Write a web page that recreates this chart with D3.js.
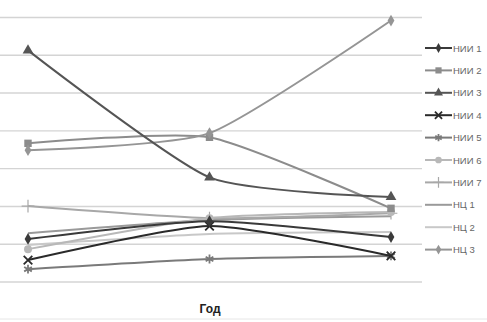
<!DOCTYPE html>
<html><head><meta charset="utf-8">
<script src="https://cdn.jsdelivr.net/npm/d3@7"></script>
<style>body{margin:0;background:#fff}svg{display:block}</style>
</head><body><svg id="c" width="487" height="322"></svg>
<script>
const years = ["1", "2", "3"];
const seriesNames = ["НИИ 1","НИИ 2","НИИ 3","НИИ 4","НИИ 5","НИИ 6","НИИ 7","НЦ 1","НЦ 2","НЦ 3"];
const nii1 = [1.14, 1.61, 1.19];
const nii2 = [3.67, 3.83, 1.95];
const nii3 = [6.13, 2.77, 2.25];
const nii4 = [0.58, 1.48, 0.69];
const nii5 = [0.34, 0.61, 0.69];
const nii6 = [0.87, 1.69, 1.85];
const nii7 = [2.01, 1.69, 1.82];
const nc1 = [1.29, 1.64, 1.74];
const nc2 = [0.98, 1.27, 1.32];
const nc3 = [3.49, 3.94, 6.92];
const gridTicks = [0,1,2,3,4,5,6,7];
const xTitle = "Год";

const values = [nii1,nii2,nii3,nii4,nii5,nii6,nii7,nc1,nc2,nc3];
const colors = ["#3a3a3a","#8c8c8c","#555555","#2a2a2a","#7a7a7a","#b8b8b8","#a8a8a8","#9a9a9a","#c8c8c8","#959595"];
const markers = ["diamond","square","triangle","x","star","circle","plus","none","none","diamond"];

const svg = d3.select("#c");
const x = d3.scalePoint().domain(years).range([28, 391]);
const y = d3.scaleLinear().domain([0, 7]).range([282, 17.5]);

// gridlines
svg.append("g").selectAll("line").data(gridTicks).join("line")
  .attr("x1", 0).attr("x2", 422)
  .attr("y1", d => y(d)).attr("y2", d => y(d))
  .attr("stroke", "#d4d4d4").attr("stroke-width", 1.4);

const line = d3.line().x((d,i) => x(years[i])).y(d => y(d)).curve(d3.curveCardinal.tension(0.4));

function drawMarker(g, type, cx, cy, col, s) {
  s = s || 1;
  if (type === "diamond") g.append("path").attr("d", d3.symbol(d3.symbolDiamond, 40*s)()).attr("transform", `translate(${cx},${cy})`).attr("fill", col);
  else if (type === "square") g.append("path").attr("d", d3.symbol(d3.symbolSquare, 55*s)()).attr("transform", `translate(${cx},${cy})`).attr("fill", col);
  else if (type === "triangle") g.append("path").attr("d", d3.symbol(d3.symbolTriangle, 50*s)()).attr("transform", `translate(${cx},${cy})`).attr("fill", col);
  else if (type === "circle") g.append("circle").attr("cx", cx).attr("cy", cy).attr("r", 4*Math.sqrt(s)).attr("fill", col);
  else if (type === "x") g.append("path").attr("d", d3.symbol(d3.symbolX, 50*s)()).attr("transform", `translate(${cx},${cy})`).attr("fill", "none").attr("stroke", col).attr("stroke-width", 1.8);
  else if (type === "star") g.append("path").attr("d", d3.symbol(d3.symbolAsterisk, 55*s)()).attr("transform", `translate(${cx},${cy})`).attr("fill", "none").attr("stroke", col).attr("stroke-width", 1.8);
  else if (type === "plus") g.append("path").attr("d", d3.symbol(d3.symbolCross2 || d3.symbolPlus, 55*s)()).attr("transform", `translate(${cx},${cy})`).attr("fill", "none").attr("stroke", col).attr("stroke-width", 1.2);
}

const order = [8,7,6,5,4,3,1,9,2,0];
order.forEach(k => {
  const g = svg.append("g");
  g.append("path").attr("d", line(values[k])).attr("fill", "none")
    .attr("stroke", colors[k]).attr("stroke-width", 2);
  values[k].forEach((v,i) => drawMarker(g, markers[k], x(years[i]), y(v), colors[k]));
});

// legend
const lg = svg.append("g");
seriesNames.forEach((n, k) => {
  const ly = 48 + k*22.4;
  lg.append("line").attr("x1", 425).attr("x2", 452).attr("y1", ly).attr("y2", ly)
    .attr("stroke", colors[k]).attr("stroke-width", 2);
  drawMarker(lg, markers[k], 438.5, ly, colors[k], 0.7);
  lg.append("text").attr("x", 453).attr("y", ly + 3.5).text(n)
    .attr("font-family", "Liberation Sans, Arial, sans-serif").attr("font-size", 9.5)
    .attr("fill", "#666");
});

svg.append("text").attr("x", 210).attr("y", 313).attr("text-anchor", "middle")
  .attr("font-family", "Liberation Sans, Arial, sans-serif").attr("font-weight", "bold")
  .attr("font-size", 12).attr("fill", "#222").text(xTitle);

svg.append("line").attr("x1", 0).attr("x2", 487).attr("y1", 319).attr("y2", 319)
  .attr("stroke", "#e6e6e6").attr("stroke-width", 1);
</script></body></html>
